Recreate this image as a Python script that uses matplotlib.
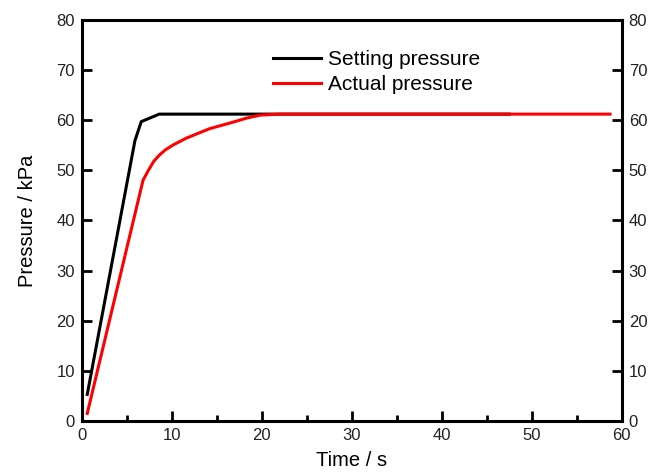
import matplotlib
matplotlib.use('Agg')
import matplotlib.pyplot as plt
from matplotlib.ticker import MultipleLocator

plt.rcParams['font.family'] = ['Liberation Sans', 'DejaVu Sans']

# setting pressure (black)
set_t = [0.6, 5.9, 6.6, 8.6, 20.0, 47.5]
set_p = [5.3, 55.9, 59.7, 61.2, 61.2, 61.2]

# actual pressure (red)
act_t = [0.6, 6.8, 7.4, 8.0, 8.6, 9.3, 10.2, 11.6, 14.2, 16.8, 18.3, 19.8, 22.0, 58.7]
act_p = [1.5, 48.0, 50.0, 51.8, 53.0, 54.1, 55.1, 56.4, 58.3, 59.6, 60.4, 61.0, 61.2, 61.2]

fig = plt.figure(figsize=(6.6, 4.73), dpi=100)
ax = fig.add_axes([0.124, 0.110, 0.818, 0.848])

ax.plot(set_t, set_p, color='black', lw=2.2, label='Setting pressure')
ax.plot(act_t, act_p, color='red', lw=2.2, label='Actual pressure')

ax.set_xlim(0, 60)
ax.set_ylim(0, 80)
ax.xaxis.set_major_locator(MultipleLocator(10))
ax.xaxis.set_minor_locator(MultipleLocator(5))
ax.yaxis.set_major_locator(MultipleLocator(10))

ax.tick_params(which='both', direction='in', width=2, labelsize=12,
               labelcolor='#222222', right=True, labelright=True, top=False, pad=5)
ax.tick_params(which='major', length=7)
ax.tick_params(which='minor', length=4)
for s in ax.spines.values():
    s.set_linewidth(2.2)

ax.set_xlabel('Time / s', fontsize=14.5, labelpad=6)
ax.set_ylabel('Pressure / kPa', fontsize=14.5, labelpad=14)

ax.legend(loc='upper left', bbox_to_anchor=(0.414, 0.894), bbox_transform=fig.transFigure,
          frameon=False, fontsize=15, handlelength=2.3, handletextpad=0.35,
          labelspacing=0.3, borderpad=0, borderaxespad=0)

fig.savefig('out.png', dpi=100)
